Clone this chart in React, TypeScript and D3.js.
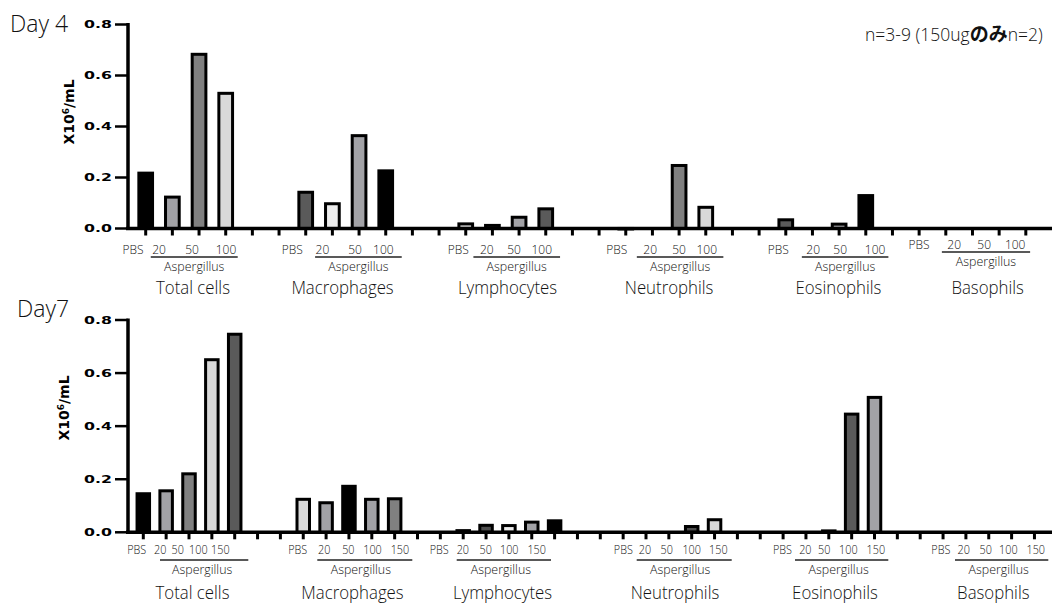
import React from "react";
import * as d3 from "d3";

// ---------- DATA ----------
const categories = ["Total cells", "Macrophages", "Lymphocytes", "Neutrophils", "Eosinophils", "Basophils"];
const day4Doses = ["PBS", "20", "50", "100"];
const day7Doses = ["PBS", "20", "50", "100", "150"];
const groupLabel = "Aspergillus";
const yTicks = [0, 0.2, 0.4, 0.6, 0.8];
const yTitle = "X10";
const yTitleSup = "6";
const yTitleRest = "/mL";
const day4Title = "Day 4";
const day7Title = "Day7";
const noteA = "n=3-9 (150ug";
const noteB = "のみ";
const noteC = "n=2)";

// values per category, in dose order
const day4TotalCells = [0.223, 0.129, 0.689, 0.536];
const day4Macrophages = [0.148, 0.103, 0.37, 0.232];
const day4Lymphocytes = [0.024, 0.018, 0.05, 0.083];
const day4Neutrophils = [0.006, 0, 0.253, 0.089];
const day4Eosinophils = [0.04, 0, 0.023, 0.135];
const day4Basophils = [0, 0, 0, 0];

const day7TotalCells = [0.151, 0.162, 0.226, 0.656, 0.752];
const day7Macrophages = [0.13, 0.117, 0.179, 0.13, 0.132];
const day7Lymphocytes = [0.012, 0.032, 0.031, 0.044, 0.049];
const day7Neutrophils = [0, 0, 0, 0.0275, 0.053];
const day7Eosinophils = [0, 0, 0.011, 0.451, 0.514];
const day7Basophils = [0, 0, 0, 0, 0];

const day4Values = [day4TotalCells, day4Macrophages, day4Lymphocytes, day4Neutrophils, day4Eosinophils, day4Basophils];
const day7Values = [day7TotalCells, day7Macrophages, day7Lymphocytes, day7Neutrophils, day7Eosinophils, day7Basophils];

// ---------- STYLES ----------
const K = "#000000", D = "#5a5a5a", M = "#808080", G = "#a2a2a6", L = "#d9d9d9", W = "#ececec";
const day4Fills = [
  [K, G, M, L],
  [D, W, G, K],
  [L, "#4e4e4e", G, D],
  [K, K, M, L],
  [D, K, G, K],
  [K, K, K, K],
];
const day7Fills = [
  [K, G, M, L, D],
  [L, G, K, G, M],
  ["#4e4e4e", "#4e4e4e", W, G, K],
  [K, K, K, "#4e4e4e", L],
  [K, K, M, D, G],
  [K, K, K, K, K],
];

// ---------- LAYOUT ----------
const FONT = "'Open Sans', 'DejaVu Sans', sans-serif";
const TXT = "#111";
const WEIGHT = 300;

const top = {
  slot0: 145.7, step: 26.67, slotsPerGroup: 6, nSlots: 34,
  y0: 228.5, y1: 24.5, barW: 13.7,
  doseNudge: [
    [-12.7, -13.3, -7, 0.3],
    [-13.4, -10, -4, -2.4],
    [-7.4, -5.6, -5, -4],
    [-9, -2.3, 0, 1],
    [-7.4, 0.7, 1, 9.3],
    [-26.7, -18.3, -15, -10.7],
  ],
  lineNudge: [[-21.6, 12], [-17.3, 16], [-19, 14.3], [-15.6, 17.6], [-10.6, 22.6], [-30.6, 4.3]],
  aspShift: [0, 0, 0, 0, 0, 0],
  titleNudge: [7.3, -3.2, 1.8, 3.3, 12.6, 1.8],
  rowShift: [0, 0, 0, 0, 0, -5],
  doseBase: 254, lineY: 257, aspBase: 271, titleBase: 294,
  doseSize: 13.6, doseScale: 0.88,
  yTitleX: 69, yTitleY: 112,
};
const bottom = {
  slot0: 143.3, step: 22.85, slotsPerGroup: 7, nSlots: 40,
  y0: 532.3, y1: 320, barW: 12.5,
  doseNudge: [
    [-6.6, -5.85, -11.2, -13.55, -14.4],
    [-5.5, -1.9, -0.6, 0.7, 5.3],
    [-24, -23.2, -23.1, -22.5, -17.9],
    [0.2, -1, -2.2, 0, 3.8],
    [-0.6, -0.6, -4.6, -3.3, 1.3],
    [-2.2, -2.1, -3, -3.3, 1.3],
  ],
  lineNudge: [[-6.15, 13.6], [-8.8, 17.65], [-29.35, -3.6], [-9.3, 17.15], [-10.95, 13.8], [-10.9, 13.85]],
  aspShift: [-2, -4, -3, -4, -3, -3],
  titleNudge: [3.5, 3.55, -6.4, 6.15, 6.2, 4.55],
  rowShift: [0, 0, 0, 0, 0, 0],
  doseBase: 553.5, lineY: 560, aspBase: 574, titleBase: 598.5,
  doseSize: 13.2, doseScale: 0.82,
  yTitleX: 64, yTitleY: 408,
};

const AXIS_X = 128;
const AXIS_END = 1052;

function Panel({ cfg, values, fills, doses }: any) {
  const x = d3.scaleLinear().domain([0, 1]).range([cfg.slot0, cfg.slot0 + cfg.step]);
  const y = d3.scaleLinear().domain([0, 0.8]).range([cfg.y0, cfg.y1]);
  const slots = d3.range(cfg.nSlots).filter((s) => x(s) < AXIS_END - 2);
  const nd = doses.length;
  return (
    <g>
      {values.map((vals: number[], g: number) =>
        vals.map((v: number, i: number) => {
          if (v <= 0) return null;
          const s = g * cfg.slotsPerGroup + i;
          const cx = x(s);
          const yt = y(v) + 1.5;
          return (
            <rect
              key={`b${g}-${i}`}
              x={cx - cfg.barW / 2}
              y={yt}
              width={cfg.barW}
              height={Math.max(0.5, y(0) - yt)}
              fill={fills[g][i]}
              stroke="#000"
              strokeWidth={3}
            />
          );
        })
      )}
      <line x1={AXIS_X - 2} x2={AXIS_END} y1={y(0)} y2={y(0)} stroke="#000" strokeWidth={3.5} />
      {slots.map((s) => (
        <line key={`t${s}`} x1={x(s)} x2={x(s)} y1={y(0)} y2={y(0) + 7} stroke="#000" strokeWidth={3} />
      ))}
      <line x1={AXIS_X} x2={AXIS_X} y1={y(0.8) - 1.5} y2={y(0) + 1.5} stroke="#000" strokeWidth={3.5} />
      {yTicks.map((t) => (
        <g key={`y${t}`}>
          <line x1={115} x2={AXIS_X} y1={y(t)} y2={y(t)} stroke="#000" strokeWidth={2.5} />
          <text
            transform={`translate(112,${y(t) + 3.9}) scale(1.5,1)`}
            textAnchor="end"
            fontFamily="'DejaVu Sans', sans-serif"
            fontWeight="bold"
            fontSize={10.5}
            fill="#000"
          >
            {d3.format(".1f")(t)}
          </text>
        </g>
      ))}
      <text
        transform={`translate(${cfg.yTitleX + 5},${cfg.yTitleY}) rotate(-90)`}
        textAnchor="middle"
        fontFamily="'DejaVu Sans', sans-serif"
        fontWeight="bold"
        fontSize={14}
        fill="#000"
      >
        {yTitle}
        <tspan fontSize={9} dy={-5}>{yTitleSup}</tspan>
        <tspan dy={5}>{yTitleRest}</tspan>
      </text>
      {categories.map((cat, g) => {
        const base = g * cfg.slotsPerGroup;
        const sh = cfg.rowShift[g];
        const lx0 = x(base + 1) + cfg.lineNudge[g][0];
        const lx1 = x(base + nd - 1) + cfg.lineNudge[g][1];
        const center = x(base + (nd - 1) / 2) + cfg.titleNudge[g];
        return (
          <g key={`c${g}`} fontFamily={FONT} fill={TXT} fontWeight={WEIGHT}>
            {doses.map((d: string, i: number) => (
              <text
                key={`d${i}`}
                transform={`translate(${x(base + i) + cfg.doseNudge[g][i]},${cfg.doseBase + sh}) scale(${cfg.doseScale},1)`}
                textAnchor="middle"
                fontSize={cfg.doseSize}
              >
                {d}
              </text>
            ))}
            <line x1={lx0} x2={lx1} y1={cfg.lineY + sh} y2={cfg.lineY + sh} stroke="#222" strokeWidth={1.5} />
            <text
              transform={`translate(${(lx0 + lx1) / 2 + cfg.aspShift[g]},${cfg.aspBase + sh}) scale(0.92,1)`}
              textAnchor="middle"
              fontSize={13.5}
            >
              {groupLabel}
            </text>
            <text
              transform={`translate(${center},${cfg.titleBase}) scale(0.96,1)`}
              textAnchor="middle"
              fontSize={17.5}
            >
              {cat}
            </text>
          </g>
        );
      })}
    </g>
  );
}

export default function App() {
  return (
    <svg
      width={1054}
      height={603}
      style={{ position: "absolute", left: 0, top: 0, display: "block", background: "#fff" }}
    >
      <rect width={1054} height={603} fill="#fff" />
      <text x={10} y={31.5} fontFamily={FONT} fontWeight={WEIGHT} fontSize={23} fill={TXT}>{day4Title}</text>
      <text x={17} y={316.5} fontFamily={FONT} fontWeight={WEIGHT} fontSize={23} fill={TXT}>{day7Title}</text>
      <text x={865} y={40.5} fontFamily={FONT} fontWeight={WEIGHT} fontSize={17.5} fill={TXT}>
        {noteA}
        <tspan fontFamily="'Noto Sans CJK JP', sans-serif" fontWeight="bold" fontSize={19}>{noteB}</tspan>
        {noteC}
      </text>
      <Panel cfg={top} values={day4Values} fills={day4Fills} doses={day4Doses} />
      <Panel cfg={bottom} values={day7Values} fills={day7Fills} doses={day7Doses} />
    </svg>
  );
}
